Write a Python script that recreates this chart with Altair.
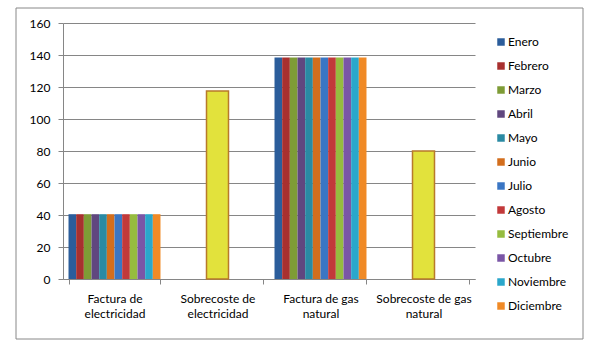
import altair as alt
import pandas as pd

categories = ["Factura de electricidad", "Sobrecoste de electricidad",
              "Factura de gas natural", "Sobrecoste de gas natural"]
category_lines = [["Factura de", "electricidad"], ["Sobrecoste de", "electricidad"],
                  ["Factura de gas", "natural"], ["Sobrecoste de gas", "natural"]]
months = ["Enero", "Febrero", "Marzo", "Abril", "Mayo", "Junio", "Julio",
          "Agosto", "Septiembre", "Octubre", "Noviembre", "Diciembre"]
month_colors = ["#2b5d9b", "#a8302f", "#7e9c36", "#60477f", "#2a8aa3", "#d36e1d",
                "#3a76c4", "#c2393a", "#96bc3f", "#7a56a6", "#2aa7cb", "#f08a26"]
factura_electricidad = [40.5, 40.5, 40.5, 40.5, 40.5, 40.5, 40.5, 40.5, 40.5, 40.5, 40.5, 40.5]
factura_gas = [138.5, 138.5, 138.5, 138.5, 138.5, 138.5, 138.5, 138.5, 138.5, 138.5, 138.5, 138.5]
sobrecoste_categories = ["Sobrecoste de electricidad", "Sobrecoste de gas natural"]
sobrecoste_values = [117.5, 80]
y_ticks = [0, 20, 40, 60, 80, 100, 120, 140, 160]

rows = []
for m, v in zip(months, factura_electricidad):
    rows.append({"categoria": categories[0], "mes": m, "valor": v})
for m, v in zip(months, factura_gas):
    rows.append({"categoria": categories[2], "mes": m, "valor": v})
df_month = pd.DataFrame(rows)
df_sc = pd.DataFrame({"categoria": sobrecoste_categories, "valor": sobrecoste_values})

label_map = "{" + ", ".join(
    "'%s': [%s]" % (c, ", ".join("'%s'" % l for l in lines))
    for c, lines in zip(categories, category_lines)) + "}"
label_expr = label_map + "[datum.label]"

FONT = "Lato"
GRAY = "#868686"

x_enc = alt.X("categoria:N",
              scale=alt.Scale(domain=categories, paddingInner=0.107, paddingOuter=0.0535),
              axis=alt.Axis(title=None, labelAngle=0, labelExpr=label_expr,
                            tickBand="extent", tickSize=5, tickColor=GRAY,
                            domainColor=GRAY, labelFont=FONT, labelFontSize=12,
                            labelColor="#000", labelPadding=9, labelLineHeight=15,
                            labelLimit=200, grid=False))
y_enc = alt.Y("valor:Q",
              scale=alt.Scale(domain=[0, 160], nice=False),
              axis=alt.Axis(title=None, values=y_ticks, tickSize=5, tickColor=GRAY,
                            domainColor=GRAY, gridColor=GRAY, labelFont=FONT,
                            labelFontSize=12, labelColor="#000", labelPadding=8))

frame = alt.Chart(pd.DataFrame({"a": [0]})).mark_rect(
    filled=False, stroke="#888888", strokeWidth=1).encode(
    x=alt.value(-47), x2=alt.value(520), y=alt.value(-15), y2=alt.value(316))

bars = alt.Chart(df_month).mark_bar().encode(
    x=x_enc,
    xOffset=alt.XOffset("mes:N", scale=alt.Scale(domain=months, paddingInner=0, paddingOuter=0)),
    y=y_enc,
    color=alt.Color("mes:N", scale=alt.Scale(domain=months, range=month_colors),
                    legend=alt.Legend(title=None, orient="none", legendX=432, legendY=13,
                                      symbolType="square", symbolSize=56,
                                      labelFont=FONT, labelFontSize=12, labelColor="#000",
                                      labelOffset=1, rowPadding=12, padding=0)),
)

sobre = alt.Chart(df_sc).mark_bar(size=22, color="#e2e23c", stroke="#b87a2a",
                                   strokeWidth=1.5).encode(x=x_enc, y=y_enc)

chart = alt.layer(frame, bars, sobre).properties(
    width=412, height=256,
    padding={"left": 63, "top": 23, "right": 125, "bottom": 71},
    autosize=alt.AutoSizeParams(type="none"),
    background="white",
).configure_view(stroke=None)

chart.save("out.html", embed_options={"renderer": "svg", "actions": False})
